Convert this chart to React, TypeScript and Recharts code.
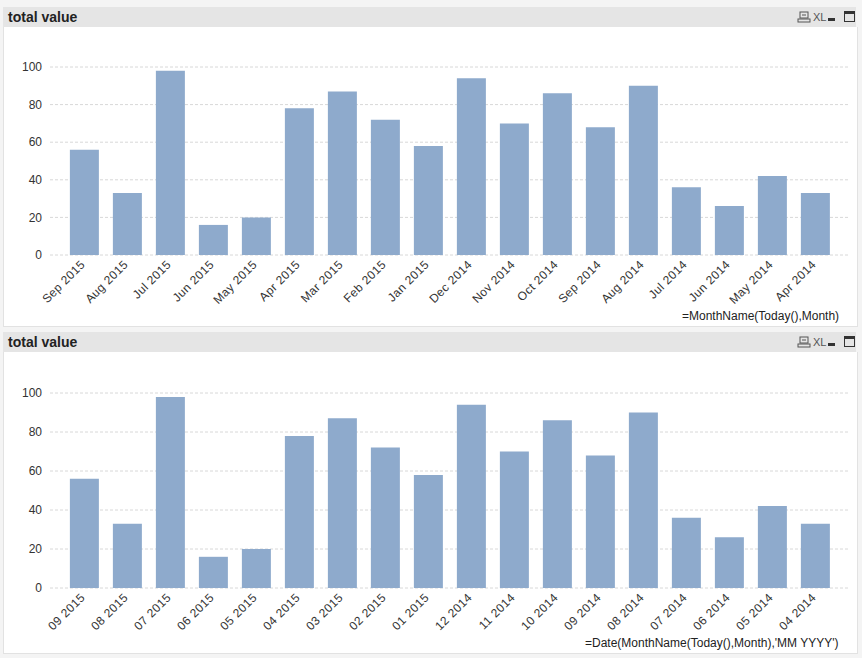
import { Bar, BarChart, CartesianGrid, XAxis, YAxis } from "recharts";

const monthNames = [
  "Sep 2015", "Aug 2015", "Jul 2015", "Jun 2015", "May 2015", "Apr 2015",
  "Mar 2015", "Feb 2015", "Jan 2015", "Dec 2014", "Nov 2014", "Oct 2014",
  "Sep 2014", "Aug 2014", "Jul 2014", "Jun 2014", "May 2014", "Apr 2014",
];
const monthNumbers = [
  "09 2015", "08 2015", "07 2015", "06 2015", "05 2015", "04 2015",
  "03 2015", "02 2015", "01 2015", "12 2014", "11 2014", "10 2014",
  "09 2014", "08 2014", "07 2014", "06 2014", "05 2014", "04 2014",
];
const totalValue = [56, 33, 98, 16, 20, 78, 87, 72, 58, 94, 70, 86, 68, 90, 36, 26, 42, 33];
const yTicks = [0, 20, 40, 60, 80, 100];

const FONT = "Arial, 'Liberation Sans', sans-serif";
const BAR = "#8eaacc";

const RotTick = (props: any) => {
  const { x, y, payload } = props;
  const tx = x - 1;
  const ty = y;
  return (
    <text
      x={tx}
      y={ty}
      transform={`rotate(-45 ${tx} ${ty})`}
      textAnchor="end"
      dominantBaseline="middle"
      fontSize={12}
      letterSpacing={0.4}
      fontFamily={FONT}
      fill="#333"
    >
      {payload.value}
    </text>
  );
};

const Icons = ({ top }: { top: number }) => (
  <div style={{ position: "absolute", left: 796, top, width: 62, height: 14 }}>
    <svg width={62} height={14}>
      <rect x={4} y={2} width={8} height={6} fill="none" stroke="#555" strokeWidth={1} />
      <line x1={6} y1={5} x2={10} y2={5} stroke="#555" />
      <rect x={2} y={9} width={12} height={3} fill="none" stroke="#555" strokeWidth={1} />
      <text x={17} y={11} fontSize={11} fontFamily={FONT} fill="#555">XL</text>
      <rect x={32} y={8} width={7} height={3} fill="#333" />
      <rect x={48.5} y={1.5} width={10} height={10} fill="none" stroke="#333" strokeWidth={1} />
      <rect x={48.5} y={1.5} width={10} height={2.5} fill="#333" />
    </svg>
  </div>
);

const Panel = ({
  top,
  labels,
  footer,
  footerLeft,
  bodyHeight,
  plotTop,
  axisHeight,
}: {
  top: number;
  labels: string[];
  footer: string;
  footerLeft: number;
  bodyHeight: number;
  plotTop: number;
  axisHeight: number;
}) => {
  const data = labels.map((name, i) => ({ name, value: totalValue[i] }));
  return (
    <>
      <div
        style={{
          position: "absolute",
          left: 3,
          top,
          width: 853,
          height: 20,
          background: "#e5e5e5",
          fontFamily: FONT,
          fontWeight: "bold",
          fontSize: 14,
          color: "#222",
          lineHeight: "20px",
          paddingLeft: 5,
          boxSizing: "border-box",
        }}
      >
        total value
      </div>
      <Icons top={top + 3} />
      <div
        style={{
          position: "absolute",
          left: 3,
          top: top + 20,
          width: 855,
          height: bodyHeight,
          background: "#fff",
          border: "1px solid #e2e2e2",
          borderTop: "none",
          boxSizing: "border-box",
        }}
      />
      <div style={{ position: "absolute", left: 3, top: top + 20 }}>
        <BarChart
          width={854}
          height={bodyHeight}
          data={data}
          margin={{ top: plotTop, right: 7, bottom: 0, left: 0 }}
          barCategoryGap="16%"
        >
          <CartesianGrid vertical={false} stroke="#d8d8d8" strokeDasharray="3 2" />
          <XAxis
            dataKey="name"
            interval={0}
            height={axisHeight}
            tick={<RotTick />}
            tickLine={false}
            axisLine={false}
            padding={{ left: 13, right: 13 }}
          />
          <YAxis
            width={47}
            domain={[0, 100]}
            ticks={yTicks}
            tickLine={false}
            axisLine={false}
            tick={{ fontSize: 12, fontFamily: FONT, fill: "#333" }}
          />
          <Bar dataKey="value" fill={BAR} isAnimationActive={false} />
        </BarChart>
      </div>
      <div
        style={{
          position: "absolute",
          left: footerLeft,
          top: top + 20 + bodyHeight - 18,
          fontFamily: FONT,
          fontSize: 12,
          color: "#222",
          whiteSpace: "nowrap",
        }}
      >
        {footer}
      </div>
    </>
  );
};

export default function App() {
  return (
    <div
      style={{
        position: "absolute",
        left: 0,
        top: 0,
        width: 862,
        height: 658,
        background: "#f4f4f4",
        overflow: "hidden",
      }}
    >
      <Panel
        top={7}
        labels={monthNames}
        footer="=MonthName(Today(),Month)"
        footerLeft={682}
        bodyHeight={300}
        plotTop={40}
        axisHeight={72}
      />
      <Panel
        top={332}
        labels={monthNumbers}
        footer="=Date(MonthName(Today(),Month),'MM YYYY')"
        footerLeft={585}
        bodyHeight={302}
        plotTop={41}
        axisHeight={66}
      />
    </div>
  );
}
